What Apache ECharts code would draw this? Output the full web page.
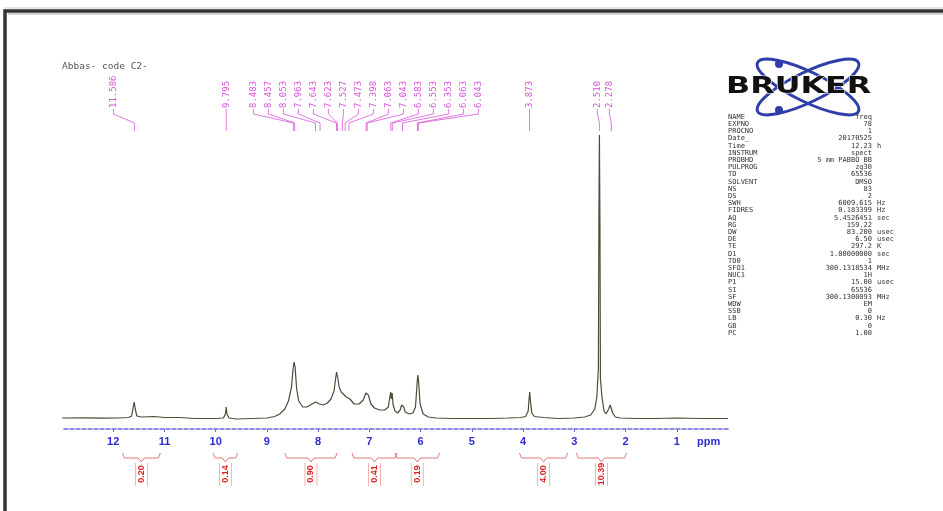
<!DOCTYPE html>
<html>
<head>
<meta charset="utf-8">
<script src="https://cdn.jsdelivr.net/npm/echarts@6/dist/echarts.min.js"></script>
<style>html,body{margin:0;padding:0;background:#fff}#c{width:943px;height:511px}</style>
</head>
<body>
<div id="c"></div>
<script>
// ---- data ----
const TITLE = 'Abbas- code C2-';
const X_TICKS = [12, 11, 10, 9, 8, 7, 6, 5, 4, 3, 2, 1];
// spectrum: [ppm, intensity]
const SPECTRUM = [
  [13.0,1],[12.6,1.2],[12.2,0.8],[11.9,1],[11.7,1.5],[11.64,3],[11.61,12],[11.59,17],[11.57,10],[11.54,3],
  [11.45,2],[11.2,2.5],[11.0,1.5],[10.7,1.5],[10.4,0.5],[10.0,0.5],[9.85,1],[9.81,5],[9.795,12],[9.78,5],
  [9.74,1],[9.6,0],[9.3,0.5],[9.0,1],[8.85,2.5],[8.75,5],[8.65,10],[8.58,18],[8.52,32],[8.49,50],
  [8.47,57],[8.45,52],[8.42,30],[8.38,18],[8.3,12],[8.22,12],[8.12,15],[8.05,17],[7.98,15],[7.9,14],
  [7.82,16],[7.75,20],[7.69,28],[7.66,40],[7.64,47],[7.62,42],[7.59,32],[7.55,27],[7.52,28],[7.49,24],
  [7.45,22],[7.42,23],[7.38,20],[7.3,15],[7.2,15],[7.12,19],[7.07,26],[7.05,27],[7.02,24],[6.97,15],
  [6.9,11],[6.8,9],[6.7,9],[6.63,12],[6.6,22],[6.585,27],[6.57,20],[6.555,26],[6.54,15],[6.5,8],
  [6.45,6],[6.4,9],[6.37,14],[6.35,15],[6.33,12],[6.3,7],[6.22,5],[6.15,6],[6.1,12],[6.07,35],
  [6.055,44],[6.04,38],[6.01,15],[5.95,5],[5.85,2],[5.7,1],[5.4,0.5],[5.0,0.5],[4.6,0.5],[4.3,1],
  [4.05,1.5],[3.95,2.5],[3.9,8],[3.88,22],[3.87,27],[3.86,20],[3.83,6],[3.78,2.5],[3.6,1.5],[3.3,0.5],
  [3.0,1],[2.8,2],[2.68,4],[2.6,10],[2.56,22],[2.53,50],[2.52,200],[2.51,284],[2.50,200],[2.49,40],
  [2.46,22],[2.42,8],[2.38,5],[2.33,10],[2.30,14],[2.28,13],[2.25,6],[2.2,2],[2.1,1],[1.8,0.5],
  [1.4,0.5],[1.0,1],[0.5,0.5],[0.0,0.5]
];
// peak pick labels, grouped
const PEAK_GROUPS = [
  ['11.586'],
  ['9.795'],
  ['8.483','8.457','8.053','7.963','7.643','7.623','7.527','7.473','7.398','7.063','7.043','6.583','6.553','6.353','6.063','6.043'],
  ['3.873'],
  ['2.510','2.278']
];
// integrals
const INTEGRAL_FROM = [11.82, 10.05, 8.65, 7.34, 6.50, 4.07, 2.96];
const INTEGRAL_TO   = [11.08,  9.57, 7.63, 6.46, 5.63, 3.13, 1.98];
const INTEGRAL_VALUES = ['0.20','0.14','0.90','0.41','0.19','4.00','10.39'];
// acquisition parameters
const PARAM_NAMES = ['NAME','EXPNO','PROCNO','Date_','Time','INSTRUM','PROBHD','PULPROG','TD','SOLVENT','NS','DS','SWH','FIDRES','AQ','RG','DW','DE','TE','D1','TD0','SFO1','NUC1','P1','SI','SF','WDW','SSB','LB','GB','PC'];
const PARAM_VALUES = ['freq','78','1','20170525','12.23','spect','5 mm PABBO BB','zg30','65536','DMSO','83','2','6009.615','0.183399','5.4526451','159.22','83.200','6.50','297.2','1.00000000','1','300.1318534','1H','15.00','65536','300.1300093','EM','0','0.30','0','1.00'];
const PARAM_UNITS  = ['','','','','h','','','','','','','','Hz','Hz','sec','','usec','usec','K','sec','','MHz','','usec','','MHz','','','Hz','',''];

// ---- layout ----
const LABEL_SHIFT = [-21, 0, 10, 0, -2];
const LABEL_SPACING = [15, 15, 15, 15, 12];

const chart = echarts.init(document.getElementById('c'));

const graphics = [];
// frame
graphics.push({type:'rect', shape:{x:5, y:11, width:960, height:520}, style:{fill:'none', stroke:'#333', lineWidth:3.5}});
graphics.push({type:'line', shape:{x1:4, y1:8, x2:943, y2:8}, style:{stroke:'#c8c8c8', lineWidth:1}});
graphics.push({type:'line', shape:{x1:8, y1:14, x2:943, y2:14}, style:{stroke:'#aaa', lineWidth:1}});
// title
graphics.push({type:'text', x:62, y:67, style:{text:TITLE, font:'9.5px "DejaVu Sans Mono"', fill:'#555', verticalAlign:'middle'}});
// ppm label
graphics.push({type:'text', x:697, y:442, style:{text:'ppm', font:'bold 11px "Liberation Sans"', fill:'#2b2bd0', verticalAlign:'middle'}});
// Bruker logo
graphics.push({type:'ellipse', x:808, y:87, rotation:0.45, shape:{cx:0, cy:0, rx:56, ry:15}, style:{fill:'none', stroke:'#2e3ea8', lineWidth:3}});
graphics.push({type:'ellipse', x:808, y:87, rotation:-0.45, shape:{cx:0, cy:0, rx:56, ry:15}, style:{fill:'none', stroke:'#2e3ea8', lineWidth:3}});
graphics.push({type:'circle', shape:{cx:779, cy:64, r:4}, style:{fill:'#2e3ea8'}});
graphics.push({type:'circle', shape:{cx:779, cy:110, r:4}, style:{fill:'#2e3ea8'}});
graphics.push({type:'text', x:726, y:87, scaleX:1.38, style:{text:'BRUKER', font:'bold 23px "DejaVu Sans"', fill:'#111', verticalAlign:'middle', stroke:'#fff', lineWidth:1}});
// parameter table
PARAM_NAMES.forEach((n, i) => {
  const y = 117 + i * 7.2;
  const f = '7px "DejaVu Sans Mono"';
  graphics.push({type:'text', x:728, y:y, style:{text:n, font:f, fill:'#333', verticalAlign:'middle'}});
  graphics.push({type:'text', x:872, y:y, style:{text:PARAM_VALUES[i], font:f, fill:'#333', align:'right', verticalAlign:'middle'}});
  if (PARAM_UNITS[i]) graphics.push({type:'text', x:877, y:y, style:{text:PARAM_UNITS[i], font:f, fill:'#333', verticalAlign:'middle'}});
});

chart.setOption({
  animation: false,
  backgroundColor: '#fff',
  grid: {left: 62, right: 215, top: 130, bottom: 82},
  xAxis: {
    type: 'value', min: 0, max: 13, interval: 1, inverse: true,
    axisLine: {show: true, onZero: false, lineStyle: {color: '#6a6ae0', width: 1.5, type: [4, 2]}},
    axisTick: {show: true, length: 3, lineStyle: {color: '#6a6ae0'}, customValues: X_TICKS},
    axisLabel: {customValues: X_TICKS, color: '#2b2bd0', fontWeight: 'bold', fontSize: 11, fontFamily: 'Liberation Sans', margin: 7},
    splitLine: {show: false}
  },
  yAxis: {type: 'value', min: -10, max: 289, show: false},
  graphic: graphics,
  series: [
    {
      type: 'line', data: SPECTRUM, showSymbol: false, symbol: 'none',
      lineStyle: {color: '#4d4d3a', width: 1.2}, clip: false
    },
    {
      type: 'custom', clip: false,
      data: PEAK_GROUPS.map((g, i) => [parseFloat(g[0]), 0]),
      renderItem: function (params, api) {
        const gi = params.dataIndex;
        const g = PEAK_GROUPS[gi];
        const px = g.map(v => api.coord([parseFloat(v), 0])[0]);
        const center = (Math.min(...px) + Math.max(...px)) / 2 + LABEL_SHIFT[gi];
        const n = g.length, sp = LABEL_SPACING[gi];
        const children = [];
        g.forEach((v, i) => {
          const lx = center + (i - (n - 1) / 2) * sp;
          children.push({type: 'text', x: lx, y: 108, rotation: Math.PI / 2,
            style: {text: v, font: '9px "DejaVu Sans Mono"', fill: '#d955d9', align: 'left', verticalAlign: 'middle'}});
          children.push({type: 'polyline', shape: {points: [[lx, 109], [lx, 114], [px[i], 123], [px[i], 131]]},
            style: {stroke: '#d955d9', lineWidth: 0.8, fill: 'none'}});
        });
        return {type: 'group', children: children};
      }
    },
    {
      type: 'custom', clip: false,
      data: INTEGRAL_FROM.map((f, i) => [f, INTEGRAL_TO[i]]),
      renderItem: function (params, api) {
        const i = params.dataIndex;
        const x1 = api.coord([api.value(0), 0])[0];
        const x2 = api.coord([api.value(1), 0])[0];
        const yTop = api.coord([0, -34])[1];
        const yMid = api.coord([0, -39])[1];
        const yNotch = api.coord([0, -43])[1];
        const yLab = api.coord([0, -55])[1];
        const cx = (x1 + x2) / 2;
        const lab = INTEGRAL_VALUES[i];
        return {type: 'group', children: [
          {type: 'polyline', shape: {points: [[x1, yTop], [x1 + 2, yMid], [cx - 3, yMid], [cx, yNotch], [cx + 3, yMid], [x2 - 2, yMid], [x2, yTop]]},
            style: {stroke: '#e07a7a', lineWidth: 1, fill: 'none'}},
          {type: 'line', shape: {x1: cx - 6, y1: yNotch + 1, x2: cx - 6, y2: yNotch + 24}, style: {stroke: '#f0a0a0', lineWidth: 0.8}},
          {type: 'line', shape: {x1: cx + 6, y1: yNotch + 1, x2: cx + 6, y2: yNotch + 24}, style: {stroke: '#f0a0a0', lineWidth: 0.8}},
          {type: 'text', x: cx, y: yLab, rotation: Math.PI / 2,
            style: {text: lab, font: 'bold 9px "Liberation Sans"', fill: '#e02020', align: 'center', verticalAlign: 'middle'}}
        ]};
      }
    }
  ]
});
</script>
</body>
</html>
